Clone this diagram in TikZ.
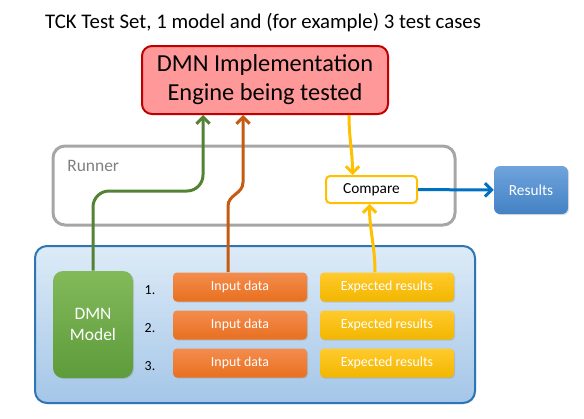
\documentclass[tikz,border=0pt]{standalone}
\usepackage{fontspec}
\setmainfont{Carlito}
\usetikzlibrary{arrows.meta,calc,shadows}

\definecolor{implfill}{HTML}{FF9999}
\definecolor{implborder}{HTML}{C00000}
\definecolor{runnergray}{HTML}{A6A6A6}
\definecolor{runnertext}{HTML}{808080}
\definecolor{yellowacc}{HTML}{FFC000}
\definecolor{resultstop}{HTML}{6FA3DC}
\definecolor{resultsbot}{HTML}{4482C4}
\definecolor{bluearrow}{HTML}{0070C0}
\definecolor{settop}{HTML}{DDEBF7}
\definecolor{setbot}{HTML}{A4C6E8}
\definecolor{setborder}{HTML}{2E75B6}
\definecolor{modeltop}{HTML}{82BA5A}
\definecolor{modelbot}{HTML}{5E9B3B}
\definecolor{inputtop}{HTML}{F48C4E}
\definecolor{inputbot}{HTML}{E8701F}
\definecolor{exptop}{HTML}{FFCA2C}
\definecolor{expbot}{HTML}{F2B600}
\definecolor{greenarrow}{HTML}{548235}
\definecolor{orangearrow}{HTML}{C55A11}

\begin{document}
\begin{tikzpicture}[x=0.75pt,y=0.75pt,
    box/.style={rounded corners=3pt,inner sep=0pt,align=center},
    shade box/.style={box,drop shadow={opacity=0.25,shadow xshift=0.8pt,shadow yshift=-0.8pt}},
    casebox/.style={shade box,minimum width=100.5pt,minimum height=21.75pt,text=white,font=\fontsize{10.4}{12}\selectfont},
    flow/.style={line width=2.25pt,-{Straight Barb[length=5pt,width=10pt]}}]
    \useasboundingbox (0,0) rectangle (584,-418);

    \node (title) at (263,-23) {\fontsize{15.6}{19}\selectfont TCK Test Set, 1 model and (for example) 3 test cases};

    \node[box,rounded corners=7.5pt,draw=implborder,line width=1.5pt,fill=implfill,minimum width=184.5pt,minimum height=51pt,font=\fontsize{18.3}{21.75}\selectfont] (dmn) at (265,-80) {DMN Implementation\\Engine being tested};

    % runner with compare step
    \node[box,rounded corners=9pt,draw=runnergray,line width=2.25pt,minimum width=301.5pt,minimum height=59.25pt] (runner) at (254,-185.5) {};
    \node[anchor=west,inner sep=0pt,text=runnertext,font=\fontsize{13.1}{15}\selectfont] (runnerlabel) at (67,-166) {Runner};
    \node[box,draw=yellowacc,line width=1.5pt,fill=white,minimum width=68.25pt,minimum height=20.25pt,font=\fontsize{11.5}{13}\selectfont] (compare) at (371.5,-189.5) {Compare};
    \node[shade box,rounded corners=4.5pt,top color=resultstop,bottom color=resultsbot,text=white,minimum width=55.5pt,minimum height=36pt,font=\fontsize{11.5}{13}\selectfont] (results) at (531,-190) {Results};

    % test set: model and cases
    \node[shade box,rounded corners=9pt,draw=setborder,line width=1.5pt,top color=settop,bottom color=setbot,minimum width=330pt,minimum height=117.75pt] (set) at (255,-324.5) {};
    \node[shade box,rounded corners=7.5pt,top color=modeltop,bottom color=modelbot,text=white,minimum width=60pt,minimum height=80.25pt,font=\fontsize{13.1}{15.75}\selectfont] (model) at (93,-324.5) {DMN\\Model};
    \foreach \n/\y in {1/287,2/325,3/363}{
        \node[font=\fontsize{10.4}{12}\selectfont] (num\n) at (150,-\y-3) {\n.};
        \node[casebox,top color=inputtop,bottom color=inputbot] (in\n) at (240,-\y) {Input data};
        \node[casebox,top color=exptop,bottom color=expbot] (exp\n) at (387,-\y) {Expected results};
    }

    % connectors
    \draw[flow,draw=greenarrow,rounded corners=12pt] (model.north) |- ($(dmn.south)+(-62,-76)$) -- ($(dmn.south)+(-62,0)$);
    \draw[flow,draw=orangearrow] ($(in1.north)+(-12,0)$) -- ++(0,66) .. controls +(0,12) and +(0,-12) .. ++(15,24) -- ($(dmn.south)+(-22,0)$);
    \draw[flow,draw=yellowacc] ($(dmn.south)+(84,0)$) to[out=-90,in=90] ($(compare.north)+(-19,0)$);
    \draw[flow,draw=yellowacc] ($(exp1.north)+(-12,0)$) to[out=90,in=-90] ($(compare.south)+(-2,0)$);
    \draw[flow,draw=bluearrow] (compare) -- (results);
\end{tikzpicture}
\end{document}
